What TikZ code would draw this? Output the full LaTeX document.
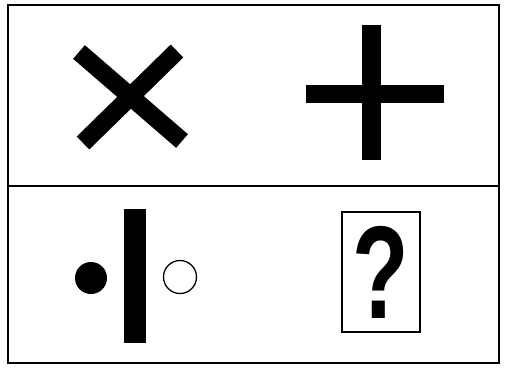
\documentclass[tikz,border=0pt]{standalone}
\usepackage{fontspec}
\setmainfont{Liberation Sans}
\usetikzlibrary{positioning}
\tikzset{
  frame/.style={draw, line width=1.4pt},
  solidbar/.style={fill=black},
  crossarm/.style={line width=18pt, line cap=butt},
  dot/.style={circle, fill=black, minimum size=32pt, inner sep=0pt},
  ring/.style={circle, draw, line width=1.3pt, minimum size=33pt, inner sep=0pt},
  qbox/.style={draw, line width=1.3pt, minimum width=78pt, minimum height=120pt,
    inner sep=0pt, font=\bfseries\fontsize{132}{132}\selectfont},
}
\begin{document}
\begin{tikzpicture}[x=1pt, y=-1pt]
  \useasboundingbox (0,0) rectangle (508,367);
  % outer frame and divider
  \draw[frame] (8,5) rectangle (499,363);
  \draw[frame] (8,186) -- (499,186);

  % top row: cross and plus
  \draw[crossarm] (79,52) -- (182,141);
  \draw[crossarm] (177,51) -- (83,143);
  \fill[solidbar] (362,25) rectangle (381,160);
  \fill[solidbar] (306,85) rectangle (444,103);

  % bottom row
  \node[dot] (full) at (91,278) {};
  \fill[solidbar] (124,209) rectangle (146,343);
  \node[ring] (empty) at (180,277) {};
  \node[qbox] (query) at (381,272) {\scalebox{0.7}[1]{?}};
\end{tikzpicture}
\end{document}
